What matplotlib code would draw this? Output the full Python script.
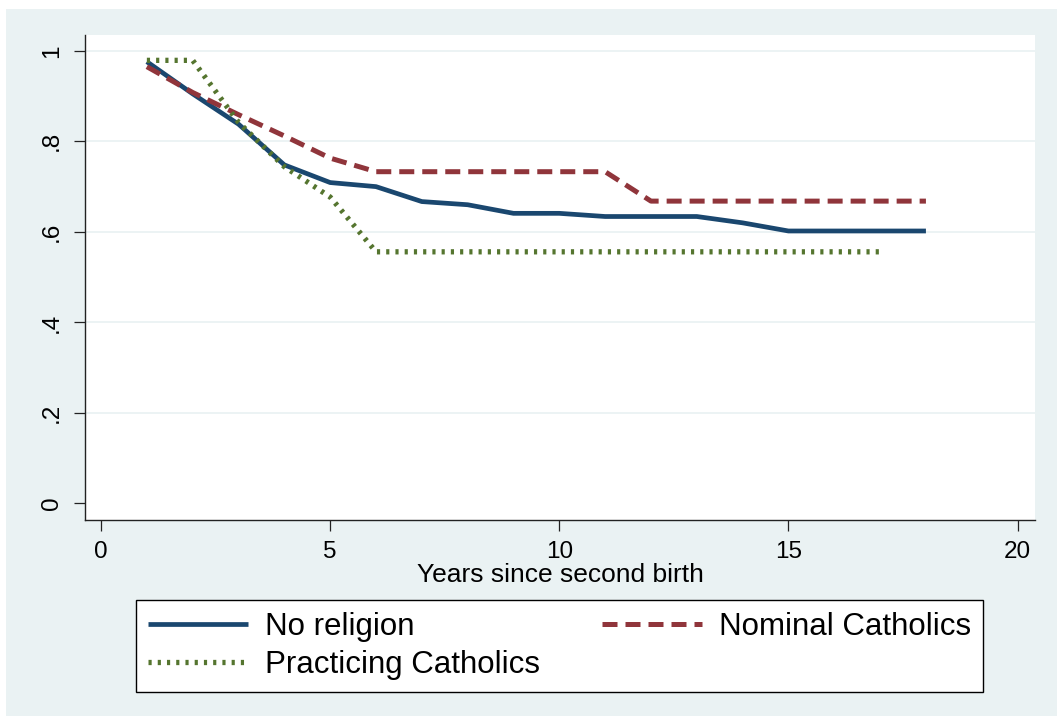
import matplotlib
matplotlib.use("Agg")
import matplotlib.pyplot as plt
from matplotlib.patches import Rectangle
from matplotlib.lines import Line2D

plt.rcParams['font.family'] = ['Liberation Sans', 'DejaVu Sans']

# Survival estimates by year since second birth
years_none = [1, 2, 3, 4, 5, 6, 7, 8, 9, 10, 11, 12, 13, 14, 15, 16, 17, 18]
no_religion = [0.976, 0.905, 0.838, 0.748, 0.709, 0.700, 0.667, 0.660, 0.641, 0.641,
               0.634, 0.634, 0.634, 0.620, 0.602, 0.602, 0.602, 0.602]

years_nominal = [1, 2, 3, 4, 5, 6, 7, 8, 9, 10, 11, 12, 13, 14, 15, 16, 17, 18]
nominal = [0.965, 0.908, 0.859, 0.812, 0.763, 0.733, 0.733, 0.733, 0.733, 0.733,
           0.733, 0.668, 0.668, 0.668, 0.668, 0.668, 0.668, 0.668]

years_practicing = [1, 2, 3, 4, 5, 6, 7, 8, 9, 10, 11, 12, 13, 14, 15, 16, 17]
practicing = [0.979, 0.979, 0.842, 0.744, 0.677, 0.556, 0.556, 0.556, 0.556, 0.556,
              0.556, 0.556, 0.556, 0.556, 0.556, 0.556, 0.556]

labels = ["No religion", "Nominal Catholics", "Practicing Catholics"]
x_ticks = [0, 5, 10, 15, 20]
y_ticks = [0, 0.2, 0.4, 0.6, 0.8, 1.0]
y_ticklabels = ["0", ".2", ".4", ".6", ".8", "1"]

BG = "#EAF2F3"
C_BLUE = "#1A476F"
C_RED = "#90353B"
C_GREEN = "#55752F"

STYLE_BLUE = dict(color=C_BLUE, lw=3.4, solid_capstyle="butt")
STYLE_RED = dict(color=C_RED, lw=3.6, linestyle=(0, (3.0, 1.6)), dash_capstyle="butt")
STYLE_GREEN = dict(color=C_GREEN, lw=3.8, linestyle=(0, (0.6, 1.15)), dash_capstyle="butt")

W, H = 1057, 716
fig = plt.figure(figsize=(W / 100, H / 100), dpi=100, facecolor="white")
fig.patches.append(Rectangle((6 / W, 0), 1 - 6 / W, 1 - 9 / H, transform=fig.transFigure,
                             facecolor=BG, edgecolor="none", zorder=-10))

ax = fig.add_axes([85 / W, (H - 520) / H, 950 / W, 485 / H])
ax.set_facecolor("white")

ax.plot(years_none, no_religion, solid_joinstyle="round", label=labels[0], zorder=3,
        **STYLE_BLUE)
ax.plot(years_nominal, nominal, label=labels[1], zorder=3, **STYLE_RED)
ax.plot(years_practicing, practicing, label=labels[2], zorder=3, **STYLE_GREEN)

ax.set_xlim(-0.35, 20.38)
ax.set_ylim(-0.0365, 1.035)
ax.set_xticks(x_ticks)
ax.set_yticks(y_ticks)
ax.set_yticklabels(y_ticklabels, rotation=90, va="center")

for s in ["top", "right"]:
    ax.spines[s].set_visible(False)
for s in ["left", "bottom"]:
    ax.spines[s].set_color("#222222")
    ax.spines[s].set_linewidth(1.0)

ax.tick_params(axis="both", direction="out", length=8, width=0.9, color="#222222",
               labelsize=17.5, pad=7)
ax.tick_params(axis="y", pad=8)

ax.yaxis.grid(True, color=BG, lw=1.3, zorder=0)
ax.yaxis.get_gridlines()[0].set_visible(False)
ax.set_axisbelow(True)

ax.set_xlabel("Years since second birth", fontsize=19, labelpad=0)

handles = [
    Line2D([], [], **STYLE_BLUE),
    Line2D([], [], **STYLE_GREEN),
    Line2D([], [], **STYLE_RED),
]
leg_labels = [labels[0], labels[2], labels[1]]
leg = fig.legend(handles, leg_labels, loc="upper left",
                 bbox_to_anchor=(136 / W, (H - 600) / H, (983 - 136) / W, 0.0),
                 mode="expand", ncol=2, fontsize=22.5, handlelength=3.2,
                 handletextpad=0.55, borderpad=0.38, labelspacing=0.25,
                 borderaxespad=0, fancybox=False, framealpha=1, edgecolor="black")
leg.get_frame().set_linewidth(1.0)

fig.savefig("out.png", dpi=100, facecolor=fig.get_facecolor())
